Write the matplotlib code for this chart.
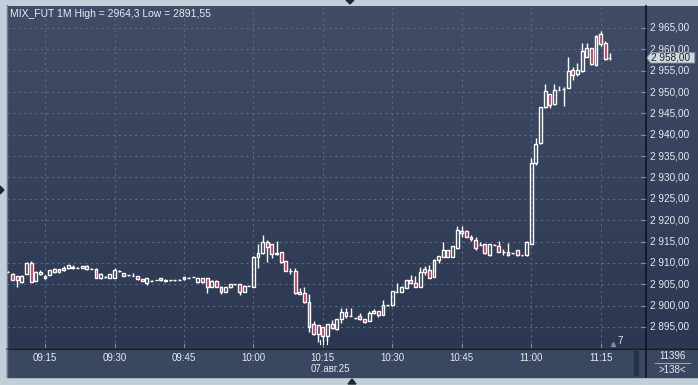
import numpy as np
import matplotlib.pyplot as plt
from matplotlib.patches import Rectangle, Polygon
from matplotlib.colors import LinearSegmentedColormap

plt.rcParams['font.family'] = ['Liberation Sans', 'DejaVu Sans']

# minutes from 09:15, one candle per minute
minutes = np.arange(-8, 123)

opens = [2907.9, 2907.5, 2906.9, 2905.4, 2907.4, 2909.9, 2905.8, 2907.3, 2907.0, 2907.2,
         2908.6, 2907.8, 2908.3, 2908.7, 2909.1, 2908.9, 2908.8, 2909.3, 2908.6, 2908.6,
         2906.4, 2906.7, 2906.5, 2906.5, 2908.0, 2907.6, 2907.1, 2907.0, 2906.9, 2906.2,
         2905.2, 2905.8, 2906.0, 2906.4, 2905.7, 2905.9, 2905.9, 2906.1, 2906.2, 2906.5,
         2906.7, 2905.4, 2906.4, 2906.4, 2904.4, 2905.8, 2904.4, 2903.2, 2904.3, 2905.0,
         2905.0, 2903.2, 2904.6, 2904.4, 2911.3, 2912.2, 2914.8, 2914.4, 2912.0, 2912.5,
         2910.4, 2908.2, 2908.2, 2902.7, 2902.9, 2900.9, 2895.6, 2893.3, 2894.9, 2892.9,
         2895.6, 2894.4, 2896.8, 2898.6, 2897.6, 2897.0, 2897.6, 2896.8, 2896.4, 2898.2,
         2898.7, 2897.8, 2900.1, 2900.1, 2903.2, 2903.2, 2904.2, 2906.0, 2905.2, 2904.4,
         2907.8, 2908.3, 2906.8, 2910.7, 2911.4, 2912.9, 2911.4, 2913.4, 2917.1, 2917.5,
         2916.1, 2915.3, 2914.2, 2914.4, 2911.8, 2914.2, 2913.9, 2912.6, 2912.6, 2912.2,
         2912.9, 2911.8, 2911.8, 2914.4, 2933.3, 2938.0, 2946.4, 2949.5, 2947.1, 2950.5,
         2950.6, 2951.0, 2955.2, 2954.2, 2955.0, 2958.3, 2960.2, 2956.3, 2963.6, 2961.4,
         2958.0]
highs = [2908.0, 2907.6, 2907.0, 2907.1, 2910.3, 2910.4, 2908.2, 2908.4, 2907.1, 2908.4,
         2908.7, 2908.6, 2909.3, 2909.6, 2909.5, 2909.1, 2909.3, 2909.4, 2908.7, 2908.7,
         2907.6, 2907.0, 2907.4, 2908.9, 2908.3, 2907.7, 2907.2, 2907.6, 2907.0, 2906.3,
         2906.5, 2905.9, 2906.1, 2906.5, 2906.2, 2906.0, 2906.0, 2906.2, 2906.7, 2906.6,
         2906.8, 2906.5, 2906.5, 2906.5, 2905.9, 2905.9, 2904.5, 2904.4, 2905.1, 2905.1,
         2905.1, 2904.7, 2904.7, 2911.5, 2914.4, 2916.5, 2915.4, 2914.5, 2915.1, 2912.6,
         2910.5, 2908.9, 2908.9, 2904.0, 2904.3, 2902.6, 2896.4, 2895.5, 2895.0, 2895.7,
         2896.6, 2896.9, 2899.4, 2899.4, 2899.5, 2897.1, 2898.2, 2896.9, 2898.8, 2899.3,
         2898.8, 2901.3, 2900.2, 2903.5, 2905.2, 2904.5, 2906.1, 2907.2, 2906.9, 2909.0,
         2909.2, 2909.5, 2910.8, 2911.6, 2915.0, 2913.0, 2914.0, 2918.6, 2918.6, 2917.6,
         2916.5, 2916.0, 2915.0, 2914.5, 2914.5, 2914.3, 2915.2, 2913.3, 2914.6, 2912.3,
         2913.0, 2911.9, 2915.1, 2934.5, 2939.2, 2946.5, 2951.9, 2949.6, 2951.9, 2951.3,
         2951.2, 2958.3, 2955.8, 2956.9, 2961.4, 2961.6, 2960.3, 2963.4, 2964.3, 2962.0,
         2959.2]
lows = [2907.8, 2906.0, 2904.4, 2905.3, 2907.3, 2905.5, 2905.7, 2907.2, 2906.3, 2907.1,
        2907.7, 2907.7, 2908.2, 2908.6, 2908.6, 2908.8, 2908.7, 2908.4, 2908.5, 2906.4,
        2906.3, 2906.5, 2906.4, 2906.4, 2907.9, 2906.9, 2907.0, 2907.0, 2906.1, 2905.7,
        2904.9, 2905.7, 2905.9, 2905.8, 2905.6, 2905.8, 2905.8, 2906.0, 2906.1, 2906.4,
        2906.6, 2905.3, 2905.3, 2903.0, 2904.3, 2904.3, 2902.8, 2903.1, 2904.2, 2904.9,
        2902.5, 2903.1, 2904.5, 2904.3, 2908.7, 2912.1, 2910.1, 2911.2, 2911.9, 2910.0,
        2908.1, 2907.5, 2902.8, 2902.6, 2900.7, 2893.7, 2893.0, 2891.55, 2891.6, 2891.6,
        2894.6, 2894.3, 2896.0, 2897.1, 2897.5, 2896.9, 2896.7, 2895.8, 2896.3, 2898.1,
        2897.3, 2897.7, 2900.0, 2900.0, 2903.1, 2903.1, 2904.1, 2905.1, 2904.3, 2904.3,
        2907.2, 2906.4, 2906.7, 2910.0, 2911.3, 2911.3, 2911.3, 2913.3, 2916.0, 2916.0,
        2915.2, 2912.9, 2914.1, 2912.1, 2911.7, 2914.1, 2912.5, 2911.8, 2911.7, 2912.1,
        2911.7, 2911.7, 2911.7, 2914.3, 2932.8, 2937.9, 2946.3, 2946.2, 2947.0, 2950.4,
        2946.8, 2950.9, 2952.9, 2953.8, 2954.7, 2958.2, 2956.4, 2956.0, 2960.8, 2957.6,
        2957.6]
closes = [2907.9, 2906.1, 2906.0, 2907.0, 2909.9, 2905.6, 2907.8, 2907.9, 2906.5, 2908.3,
          2907.8, 2908.5, 2908.9, 2909.5, 2908.7, 2908.9, 2909.2, 2908.5, 2908.6, 2906.5,
          2907.5, 2906.7, 2907.3, 2908.3, 2908.0, 2907.0, 2907.1, 2907.0, 2906.2, 2905.8,
          2906.4, 2905.8, 2906.0, 2905.9, 2906.1, 2905.9, 2905.9, 2906.1, 2906.6, 2906.5,
          2906.7, 2906.4, 2905.4, 2904.4, 2905.8, 2904.4, 2903.2, 2904.3, 2905.0, 2905.0,
          2903.2, 2904.6, 2904.6, 2911.4, 2912.2, 2914.8, 2913.8, 2912.1, 2912.2, 2910.1,
          2908.2, 2908.2, 2902.9, 2903.1, 2900.8, 2895.0, 2893.3, 2895.4, 2892.9, 2895.6,
          2894.7, 2896.8, 2898.6, 2897.6, 2897.6, 2897.0, 2896.8, 2896.2, 2898.3, 2898.7,
          2897.8, 2900.1, 2900.1, 2903.4, 2903.2, 2904.4, 2906.0, 2905.2, 2904.4, 2907.8,
          2908.6, 2906.5, 2910.7, 2911.5, 2913.0, 2911.4, 2913.9, 2917.8, 2917.5, 2916.1,
          2915.5, 2913.4, 2914.2, 2912.2, 2914.4, 2914.2, 2912.6, 2912.6, 2911.8, 2912.2,
          2911.8, 2911.8, 2915.0, 2933.3, 2937.8, 2946.4, 2950.2, 2947.0, 2950.5, 2950.5,
          2950.6, 2954.9, 2954.0, 2955.2, 2959.6, 2960.2, 2956.5, 2963.2, 2961.3, 2957.7,
          2958.0]

price_ticks = np.arange(2895, 2966, 5)
time_ticks = [0, 15, 30, 45, 60, 75, 90, 105, 120]
time_labels = ["09:15", "09:30", "09:45", "10:00", "10:15", "10:30", "10:45", "11:00", "11:15"]
date_label = "07.авг.25"
title = "MIX_FUT 1M High = 2964,3 Low = 2891,55"
last_price = 2958.0

W, H = 698, 385
fig = plt.figure(figsize=(W / 100, H / 100), dpi=100)

# base layer in pixel coordinates for the window frame
base = fig.add_axes([0, 0, 1, 1])
base.set_xlim(0, W)
base.set_ylim(H, 0)
base.axis('off')
base.add_patch(Rectangle((0, 0), W, H, color='#c3cedb'))

grad = LinearSegmentedColormap.from_list('bg', ['#414d66', '#2c3852'])
base.imshow(np.linspace(0, 1, 256)[:, None], cmap=grad, aspect='auto',
            extent=(7, W, 348, 6), zorder=1)
base.add_patch(Rectangle((7, 349), 638, 28, color='#3a4761', zorder=1))
base.add_patch(Rectangle((646, 349), W - 646, 28, color='#3a4761', zorder=1))
base.plot([7, W], [348.5, 348.5], color='#10141c', lw=1.2, zorder=2)
base.plot([645.5, 645.5], [6, 377], color='#10141c', lw=1.2, zorder=2)
base.plot([6.5, 6.5], [5, 377], color='#6f7c90', lw=1, zorder=2)
base.add_patch(Rectangle((634, 351), 4, 24, color='#25314a', zorder=2))
# frame arrows
base.add_patch(Polygon([(346, 0), (354, 0), (350, 4)], color='#1d2838', zorder=2))
base.add_patch(Polygon([(0, 186), (0, 194), (4, 190)], color='#1d2838', zorder=2))
base.add_patch(Polygon([(348, 384), (356, 384), (352, 379)], color='#1d2838', zorder=2))

base.text(672, 356, "11396", color='#e6ebf2', fontsize=7, ha='center', va='center', zorder=3)
base.plot([655, 690], [363, 363], color='#9aa6b8', lw=0.8, zorder=3)
base.text(672, 370, ">138<", color='#e6ebf2', fontsize=7, ha='center', va='center', zorder=3)

# main chart
ax = fig.add_axes([7 / W, 1 - 348 / H, 638 / W, 342 / H])
ax.patch.set_alpha(0)
ax.set_xlim(-8.22, 129.58)
ax.set_ylim(2890.06, 2970.15)
for s in ax.spines.values():
    s.set_visible(False)
ax.set_xticks([])
ax.set_yticks([])

grid_kw = dict(color='#5a6882', lw=0.8, linestyles=(0, (2, 3)), zorder=1)
ax.hlines(price_ticks, -8.22, 129.58, **grid_kw)
ax.vlines(time_ticks, 2890.06, 2970.15, **grid_kw)

t = minutes
o = np.array(opens)
c = np.array(closes)
hi = np.array(highs)
lo = np.array(lows)
top = np.maximum(o, c)
bot = np.minimum(o, c)
up = c >= o

ax.vlines(t, top, hi, color='white', lw=1, zorder=3)
ax.vlines(t, lo, bot, color='white', lw=1, zorder=3)
ax.bar(t[up], (top - bot)[up], bottom=bot[up], width=0.62,
       facecolor='none', edgecolor='white', lw=1, zorder=4)
ax.bar(t[~up], (top - bot)[~up], bottom=bot[~up], width=0.62,
       facecolor='#e3133c', edgecolor='white', lw=1, zorder=4)

ax.text(0.005, 0.978, title, transform=ax.transAxes, color='#e8edf3',
        fontsize=7.5, va='center', ha='left')

# price scale on the right panel
ytr = ax.get_yaxis_transform()
for v in price_ticks:
    lab = f"{v:,.2f}".replace(",", " ").replace(".", ",")
    ax.text(1.0075, v, lab, transform=ytr, color='#e6ebf2', fontsize=7.2,
            ha='left', va='center', clip_on=False)
    ax.plot([0.993, 1.0], [v, v], transform=ytr, color='#7d8aa0', lw=0.8, clip_on=False)

# last price marker
lp = f"{last_price:,.2f}".replace(",", " ").replace(".", ",")
x0 = 1.003
ax.add_patch(Polygon([(x0, last_price), (x0 + 0.006, last_price + 1.2), (1.078, last_price + 1.2),
                      (1.078, last_price - 1.2), (x0 + 0.006, last_price - 1.2)],
                     closed=True, transform=ytr, facecolor='#d3d8df', edgecolor='#8894a6',
                     lw=0.6, clip_on=False, zorder=5))
ax.text(1.0095, last_price, lp, transform=ytr, color='#1a2233', fontsize=7.2,
        ha='left', va='center', clip_on=False, zorder=6)

# time scale
xtr = ax.get_xaxis_transform()
for m, lab in zip(time_ticks, time_labels):
    ax.text(m, -0.029, lab, transform=xtr, color='#e6ebf2', fontsize=7,
            ha='center', va='center', clip_on=False)
    ax.plot([m, m], [0, 0.012], transform=xtr, color='#7d8aa0', lw=0.8)
ax.text(61.7, -0.061, date_label, transform=xtr, color='#e6ebf2', fontsize=7,
        ha='center', va='center', clip_on=False)

# small markers at the bottom of the chart
for m in [59.4, 60.1, 60.8]:
    ax.plot([m, m], [0.012, 0.024], transform=xtr, color='white', lw=0.8)
ax.plot([122.6], [0.012], transform=xtr, marker='^', ms=3, color='#7d8aa0')
ax.text(124.2, 0.02, "7", transform=xtr, color='#e6ebf2', fontsize=7,
        ha='center', va='center')

fig.savefig("out.png", dpi=100)
